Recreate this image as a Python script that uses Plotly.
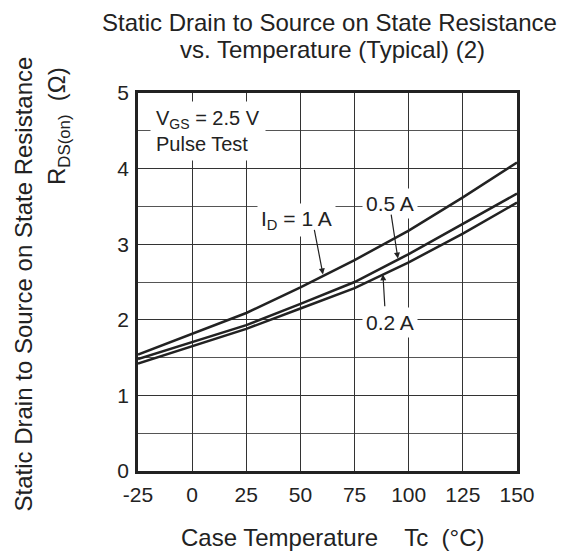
import plotly.graph_objects as go

temp = [-25, 0, 25, 50, 75, 100, 125, 150]
r_1a = [1.54, 1.82, 2.09, 2.43, 2.79, 3.18, 3.62, 4.08]
r_05a = [1.48, 1.71, 1.93, 2.21, 2.50, 2.87, 3.27, 3.67]
r_02a = [1.42, 1.65, 1.88, 2.15, 2.42, 2.76, 3.14, 3.55]
x_ticks = [-25, 0, 25, 50, 75, 100, 125, 150]
y_ticks = [0, 1, 2, 3, 4, 5]

FONT = "Liberation Sans, Arial, sans-serif"
INK = "#222222"

fig = go.Figure()
for ys in (r_1a, r_05a, r_02a):
    fig.add_trace(go.Scatter(x=temp, y=ys, mode="lines",
                             line=dict(color=INK, width=2.5), showlegend=False,
                             hoverinfo="skip"))

ann = []
# title (two lines, tighter spacing)
ann.append(dict(text="Static Drain to Source on State Resistance",
                xref="paper", yref="paper", x=0.505, y=1.0, yshift=71, xanchor="center",
                yanchor="middle", showarrow=False, font=dict(size=24, color=INK, family=FONT)))
ann.append(dict(text="vs. Temperature (Typical) (2)",
                xref="paper", yref="paper", x=0.513, y=1.0, yshift=44, xanchor="center",
                yanchor="middle", showarrow=False, font=dict(size=24, color=INK, family=FONT)))
# y-axis labels
ann.append(dict(text="Static Drain to Source on State Resistance",
                xref="paper", yref="paper", x=0, xshift=-115, y=1.0, yshift=38,
                xanchor="center", yanchor="top", textangle=-90, showarrow=False,
                font=dict(size=24, color=INK, family=FONT)))
ann.append(dict(text="R<sub>DS(on)</sub>  (Ω)",
                xref="paper", yref="paper", x=0, xshift=-80, y=1.0, yshift=28,
                xanchor="center", yanchor="top", textangle=-90, showarrow=False,
                font=dict(size=24, color=INK, family=FONT)))
# x-axis label
ann.append(dict(text="Case Temperature    Tc  (°C)",
                xref="paper", yref="paper", x=0.512, y=0, yshift=-66,
                xanchor="center", yanchor="middle", showarrow=False,
                font=dict(size=24, color=INK, family=FONT)))
# condition box
ann.append(dict(text="V<sub>GS</sub> = 2.5 V<br>Pulse Test", x=7.3, y=4.50,
                xanchor="center", yanchor="middle", align="left", showarrow=False,
                bgcolor="white", borderpad=5,
                font=dict(size=20, color=INK, family=FONT)))
# curve labels
for txt, xx, yy in (("I<sub>D</sub> = 1 A", 48.4, 3.32),
                    ("0.5 A", 91.3, 3.545),
                    ("0.2 A", 91.3, 1.96)):
    ann.append(dict(text=txt, x=xx, y=yy, xanchor="center", yanchor="middle",
                    showarrow=False, bgcolor="white", borderpad=3,
                    font=dict(size=21, color=INK, family=FONT)))
# arrows
for (tx, ty, hx, hy) in ((56.3, 3.21, 60.4, 2.60),
                         (91.8, 3.41, 95.0, 2.81),
                         (89.0, 2.16, 88.1, 2.60)):
    ann.append(dict(text="", x=hx, y=hy, ax=tx, ay=ty, axref="x", ayref="y",
                    showarrow=True, arrowhead=2, arrowsize=1, arrowwidth=1.2,
                    arrowcolor=INK, standoff=0, startstandoff=0))

fig.update_layout(
    width=566, height=554,
    margin=dict(l=130, r=57, t=85, b=91),
    paper_bgcolor="white", plot_bgcolor="white",
    font=dict(family=FONT, color=INK, size=21),
    annotations=ann,
    xaxis=dict(range=[-25, 150], tickvals=x_ticks, ticktext=[str(v) for v in x_ticks],
               showgrid=True, gridcolor="#333333", gridwidth=1,
               showline=True, linecolor=INK, linewidth=2.5, mirror=True,
               ticks="outside", ticklen=3, tickcolor="rgba(0,0,0,0)",
               zeroline=False, tickfont=dict(size=21, color=INK)),
    yaxis=dict(range=[0, 5], tickvals=y_ticks, ticktext=[str(v) for v in y_ticks],
               showgrid=True, gridcolor="#333333", gridwidth=1,
               minor=dict(dtick=0.5, showgrid=True, gridcolor="#555555", gridwidth=1),
               showline=True, linecolor=INK, linewidth=2.5, mirror=True,
               ticks="outside", ticklen=2, tickcolor="rgba(0,0,0,0)",
               zeroline=False, tickfont=dict(size=21, color=INK)),
)

fig.write_html("out.html")
